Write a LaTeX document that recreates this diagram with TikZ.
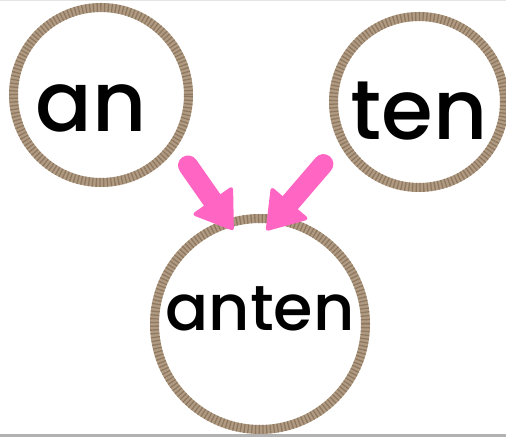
\documentclass[tikz,border=0pt]{standalone}
\usepackage{fontspec}
\IfFontExistsTF{Poppins Medium}{\setmainfont{Poppins Medium}}{\setmainfont{Poppins}[FakeBold=1.5]}
\usetikzlibrary{arrows.meta,calc}
\definecolor{rope}{RGB}{176,155,130}
\definecolor{ropedark}{RGB}{120,98,76}
\definecolor{hotpink}{RGB}{255,102,196}
\begin{document}
\begin{tikzpicture}[x=1bp,y=1bp,
  ring/.style={circle,draw=rope,line width=9bp,inner sep=0pt,
    postaction={draw=ropedark,line width=9bp,dash pattern=on 1.3bp off 2.4bp,opacity=.6}},
  word/.style={anchor=base,inner sep=0pt,font=\fontsize{#1}{#1}\selectfont},
  pinkarrow/.style={hotpink,line width=20bp,line cap=round,
    -{Triangle[width=50bp,length=38bp,line width=4bp,round]}}]
\useasboundingbox (0,0) rectangle (506,438);
\draw[gray!20,line width=1.5bp] (0,437.5)--(506,437.5);\draw[gray!60,line width=3bp] (0,2.5)--(506,2.5);
\node[ring,minimum size=175bp] (an) at (101,343) {};
\node[ring,minimum size=171bp] (ten) at (419,336) {};
\node[ring,minimum size=211bp] (anten) at (260,114) {};
\node[word=84] (antext) at (91,306) {an};
\node[word=84] (tentext) at (419,298) {ten};
\node[word=64] (antentext) at (260,107) {anten};
\coordinate (a1) at ($(an)+(-39:112)$);\coordinate (a2) at ($(anten)+(106:98)$);
\coordinate (b1) at ($(ten)+(213:114)$);\coordinate (b2) at ($(anten)+(86:94)$);
\draw[pinkarrow] (a1)--(a2);\draw[pinkarrow] (b1)--(b2);
\end{tikzpicture}
\end{document}
